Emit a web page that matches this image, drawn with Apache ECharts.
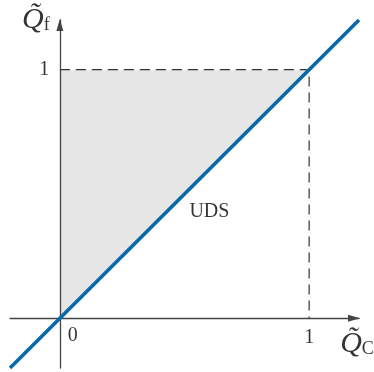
<!DOCTYPE html>
<html>
<head>
<meta charset="utf-8">
<script src="https://cdn.jsdelivr.net/npm/echarts@6/dist/echarts.min.js"></script>
<style>
  html, body { margin: 0; padding: 0; background: #ffffff; }
  #chart { width: 374px; height: 372px; }
</style>
</head>
<body>
<div id="chart"></div>
<script>
// Axis extent (both axes share it)
const axisMin = -0.2;
const axisMax = 1.2;

// Uniform-distribution line Q_f = Q_C
const diagonal = [[-0.2, -0.2], [1.2, 1.2]];
// Shaded feasible region above the diagonal
const region = [[0, 0], [0, 1], [1, 1]];
// Dashed guides at Q = 1
const guide = [[0, 1], [1, 1], [1, 0]];

// Tick labels
const xTicks = [0, 1];
const xTickLabels = ['0', '1'];
const yTicks = [1];
const yTickLabels = ['1'];

// Region label
const regionLabel = 'UDS';
const regionLabelAt = [0.6, 0.43];

const serif = 'Liberation Serif, Times New Roman, serif';
const ink = '#333333';
const textInk = '#000000';

const chart = echarts.init(document.getElementById('chart'), null, { renderer: 'canvas' });

const axisCommon = {
  type: 'value',
  min: axisMin,
  max: axisMax,
  z: 3,
  axisLine: {
    show: true,
    onZero: true,
    symbol: ['none', 'triangle'],
    symbolSize: [7, 12],
    symbolOffset: [0, -5],
    lineStyle: { color: '#444444', width: 1.3 }
  },
  axisTick: { show: false },
  axisLabel: { show: false },
  splitLine: { show: false }
};

const xLabelOffsets = [[13, 17], [0, 19]];

const labelData = [];
xTicks.forEach((v, i) => {
  labelData.push({ value: [v, 0], label: { formatter: xTickLabels[i], offset: xLabelOffsets[i] } });
});
yTicks.forEach((v, i) => {
  labelData.push({ value: [0, v], label: { formatter: yTickLabels[i], offset: [-15.5, 0] } });
});
labelData.push({ value: regionLabelAt, label: { formatter: regionLabel, offset: [0, 0] } });
labelData.push({ value: [0, axisMax], label: { formatter: '{q|Q\u0303}{s|f}', offset: [-24, 0] } });
labelData.push({ value: [axisMax, 0], label: { formatter: '{q|Q\u0303}{s|C}', offset: [-2, 26] } });

chart.setOption({
  animation: false,
  backgroundColor: '#ffffff',
  grid: { left: 10, right: 15, top: 20, bottom: 4, containLabel: false },
  xAxis: axisCommon,
  yAxis: axisCommon,
  series: [
    {
      type: 'custom',
      z: 1,
      silent: true,
      clip: false,
      data: [[0, 0]],
      renderItem: function (params, api) {
        const pts = region.map(p => api.coord(p));
        return {
          type: 'polygon',
          shape: { points: pts },
          style: { fill: '#e6e6e6' }
        };
      }
    },
    {
      type: 'line',
      z: 2,
      silent: true,
      data: guide,
      symbol: 'none',
      clip: false,
      lineStyle: { color: ink, width: 1.2, type: [10, 6] }
    },
    {
      type: 'line',
      z: 5,
      silent: true,
      data: diagonal,
      symbol: 'none',
      clip: false,
      lineStyle: { color: '#0769a8', width: 3.6, cap: 'butt' }
    },
    {
      type: 'scatter',
      z: 6,
      silent: true,
      symbolSize: 0,
      clip: false,
      data: labelData,
      label: {
        show: true,
        position: 'inside',
        align: 'center',
        verticalAlign: 'middle',
        color: textInk,
        fontFamily: serif,
        fontSize: 20,
        rich: {
          q: { fontFamily: serif, fontStyle: 'italic', fontSize: 30, color: textInk, verticalAlign: 'bottom' },
          s: { fontFamily: serif, fontSize: 18, color: textInk, verticalAlign: 'bottom', padding: [0, 0, 1, 0] }
        }
      }
    }
  ]
});
</script>
</body>
</html>
